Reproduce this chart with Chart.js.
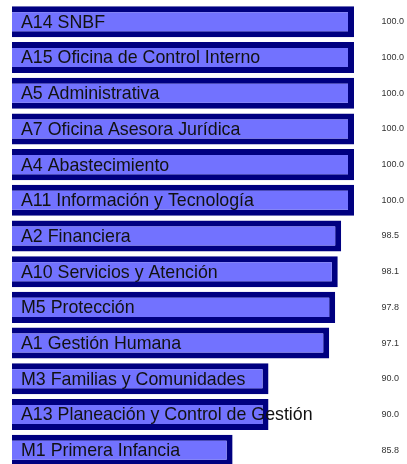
<!DOCTYPE html>
<html>
<head>
<meta charset="utf-8">
<script src="https://cdn.jsdelivr.net/npm/chart.js@4"></script>
<style>
    html, body { margin: 0; padding: 0; background: #fff; overflow: hidden; }
    #wrap { position: relative; width: 407px; height: 472px; }
</style>
</head>
<body>
<div id="wrap"><canvas id="areasChart"></canvas></div>
<script>
// categories, top to bottom
const areas = [
    'A14 SNBF',
    'A15 Oficina de Control Interno',
    'A5 Administrativa',
    'A7 Oficina Asesora Jurídica',
    'A4 Abastecimiento',
    'A11 Información y Tecnología',
    'A2 Financiera',
    'A10 Servicios y Atención',
    'M5 Protección',
    'A1 Gestión Humana',
    'M3 Familias y Comunidades',
    'A13 Planeación y Control de Gestión',
    'M1 Primera Infancia'
];
const scores = [100.0, 100.0, 100.0, 100.0, 100.0, 100.0, 98.5, 98.1, 97.8, 97.1, 90.0, 90.0, 85.8];
const scoreLabels = ['100.0', '100.0', '100.0', '100.0', '100.0', '100.0', '98.5', '98.1', '97.8', '97.1', '90.0', '90.0', '85.8'];

// draws the area name inside each bar and the score at the right
const barText = {
    id: 'barText',
    afterDatasetsDraw(chart) {
        const ctx = chart.ctx;
        const meta = chart.getDatasetMeta(0);
        const left = chart.chartArea.left;
        ctx.save();
        ctx.textBaseline = 'middle';
        ctx.textAlign = 'left';
        meta.data.forEach((bar, i) => {
            ctx.font = '17.8px "Liberation Sans", Arial, sans-serif';
            ctx.fillStyle = '#111';
            ctx.fillText(areas[i], left + 9, bar.y + 1);
            ctx.font = '9px "Liberation Sans", Arial, sans-serif';
            ctx.fillStyle = '#333';
            ctx.fillText(scoreLabels[i], 381.5, bar.y);
        });
        ctx.restore();
    }
};

const ctx = document.getElementById('areasChart').getContext('2d');
new Chart(ctx, {
    type: 'bar',
    data: {
        labels: areas,
        datasets: [{
            data: scores,
            backgroundColor: '#7272ff',
            borderColor: '#000080',
            borderWidth: 6,
            borderSkipped: false,
            barPercentage: 0.87,
            categoryPercentage: 1
        }]
    },
    options: {
        indexAxis: 'y',
        responsive: true,
        maintainAspectRatio: false,
        animation: false,
        layout: { padding: { left: 12, right: 53, top: 4, bottom: 4 } },
        scales: {
            x: { display: false, min: 60, max: 100 },
            y: { display: false }
        },
        plugins: {
            legend: { display: false },
            tooltip: { enabled: false }
        }
    },
    plugins: [barText]
});
</script>
</body>
</html>
